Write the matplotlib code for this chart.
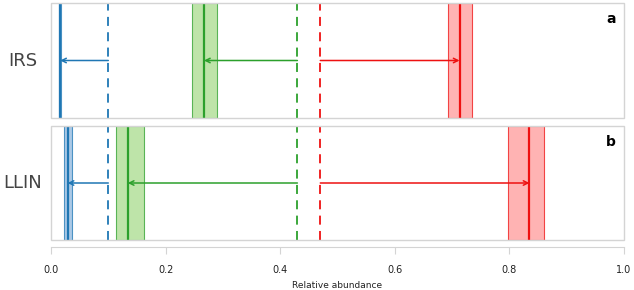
import matplotlib
matplotlib.use('Agg')
import matplotlib.pyplot as plt
from matplotlib.patches import Rectangle

# datos
panels = ['IRS', 'LLIN']
letters = ['a', 'b']
colors = ['#1f77b4', '#2ca02c', '#ee1111']
band_colors = ['#8fb8de', '#a8dc8c', '#ff9a9a']
# valores de referencia (lineas discontinuas)
baseline = [0.10, 0.43, 0.47]
# estimacion central y limites (por panel, por especie)
est = [[0.016, 0.267, 0.713], [0.029, 0.134, 0.835]]
low = [[0.014, 0.246, 0.692], [0.023, 0.113, 0.798]]
high = [[0.018, 0.289, 0.735], [0.037, 0.162, 0.861]]
xticks = [0.0, 0.2, 0.4, 0.6, 0.8, 1.0]

fig = plt.figure(figsize=(6.34, 2.9), dpi=100)
frame_col = '#d4d4d4'

positions = [[51/634, 1-118/290, 573/634, 115/290],
             [51/634, 1-240/290, 573/634, 114/290]]

for i, name in enumerate(panels):
    ax = fig.add_axes(positions[i])
    ax.set_xlim(0, 1)
    ax.set_ylim(0, 1)
    for s in ax.spines.values():
        s.set_visible(False)
    ax.add_patch(Rectangle((0, 0), 1, 1, transform=ax.transAxes, fill=False,
                           edgecolor=frame_col, lw=1, clip_on=False, zorder=5))
    for j in range(3):
        c = colors[j]
        ax.axvspan(low[i][j], high[i][j], facecolor=band_colors[j], alpha=0.75,
                   edgecolor=c, lw=0.8)
        ax.axvline(est[i][j], color=c, lw=1.6)
        ax.axvline(baseline[j], color=c, lw=1.3, ls=(0, (5, 3.5)))
        ax.annotate('', xy=(est[i][j], 0.5), xytext=(baseline[j], 0.5),
                    arrowprops=dict(arrowstyle='->', color=c, lw=1.1,
                                    shrinkA=0, shrinkB=0, mutation_scale=8))
    ax.set_yticks([])
    ax.text(-0.05, 0.5, name, transform=ax.transAxes, ha='center', va='center',
            fontsize=13, color='#444444')
    ax.text(0.985, 0.86, letters[i], transform=ax.transAxes, ha='right', va='center',
            fontsize=10, fontweight='bold', color='black')
    if i == 0:
        ax.set_xticks([])
    else:
        sp = ax.spines['bottom']
        sp.set_visible(True)
        sp.set_position(('outward', 5))
        sp.set_color(frame_col)
        ax.set_xticks(xticks)
        ax.set_xticklabels(['%.1f' % t for t in xticks])
        ax.tick_params(axis='x', length=5, color=frame_col, labelsize=7,
                       labelcolor='#222222', pad=8)
        ax.set_xlabel('Relative abundance', fontsize=6.5, color='#222222', labelpad=4)

fig.savefig('out.png', dpi=100)
